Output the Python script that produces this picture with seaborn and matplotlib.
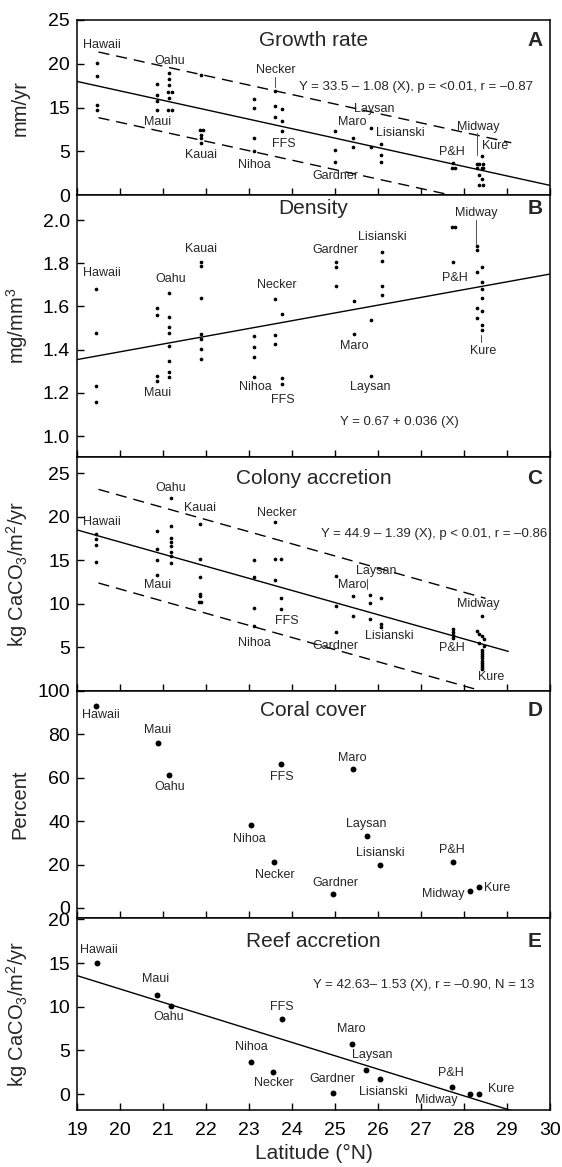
import matplotlib
matplotlib.use("Agg")
import matplotlib.pyplot as plt
import seaborn as sns
import numpy as np

# ---- A: growth rate (mm/yr)
growth_lat = [19.47, 19.47, 19.47, 19.47,
              20.85, 20.85, 20.85, 20.85,
              21.15, 21.15, 21.15, 21.12, 21.22, 21.15, 21.12, 21.22,
              21.88, 21.85, 21.92, 21.88, 21.88, 21.88,
              23.12, 23.12, 23.12, 23.12,
              23.6, 23.6, 23.6, 23.76, 23.76, 23.76,
              25.0, 25.0, 25.0,
              25.41, 25.41, 25.83, 25.83,
              26.07, 26.07, 26.07,
              27.75, 27.71, 27.79,
              28.41, 28.3, 28.36, 28.45, 28.3, 28.41, 28.45, 28.36, 28.41, 28.36, 28.45]
growth_val = [15.05, 13.6, 10.3, 9.7,
              12.7, 11.4, 10.7, 9.7,
              14.0, 13.3, 12.6, 11.8, 11.8, 11.05, 9.7, 9.7,
              13.75, 7.4, 7.4, 6.9, 6.5, 5.95,
              11.0, 10.0, 6.55, 5.07,
              11.9, 10.2, 8.95, 9.8, 8.5, 7.35,
              7.3, 5.14, 3.8,
              6.5, 5.5, 7.7, 5.5,
              5.8, 4.6, 3.8,
              3.7, 3.05, 3.05,
              4.45, 3.6, 3.6, 3.6, 3.05, 3.05, 3.05, 2.3, 1.8, 1.15, 1.15]
growth_fit = (33.5, -1.08)
growth_upper = 37.4
growth_lower = 29.9
growth_ticks = [0, 5, 10, 15, 20]
growth_ticklabels = ["0", "5", "15", "20", "25"]

# ---- B: density (mg/mm3)
dens_lat = [19.45] * 4 + [20.85] * 4 + [21.15] * 8 + [21.88] * 7 + [23.12] * 4 \
    + [23.6] * 3 + [23.76] * 3 + [25.02] * 3 + [25.44] * 2 + [25.83] * 2 + [26.09] * 4 \
    + [27.71, 27.79, 27.75] \
    + [28.3, 28.3, 28.41, 28.3, 28.41, 28.41, 28.41, 28.3, 28.41, 28.3, 28.41, 28.41]
dens_val = [1.679, 1.475, 1.233, 1.156,
            1.591, 1.560, 1.279, 1.256,
            1.661, 1.552, 1.503, 1.478, 1.417, 1.347, 1.298, 1.275,
            1.807, 1.787, 1.637, 1.472, 1.448, 1.403, 1.358,
            1.463, 1.411, 1.364, 1.275,
            1.634, 1.468, 1.424,
            1.565, 1.267, 1.239,
            1.807, 1.784, 1.696,
            1.627, 1.472,
            1.537, 1.278,
            1.850, 1.810, 1.694, 1.653,
            1.969, 1.969, 1.804,
            1.880, 1.861, 1.781, 1.758, 1.715, 1.681, 1.640, 1.594, 1.579, 1.545, 1.514, 1.491]
dens_fit = (0.67, 0.036)

# ---- C: colony accretion (kg CaCO3/m2/yr)
colony_lat = [19.45] * 4 + [20.87] * 4 + [21.18] * 8 \
    + [21.86, 21.86, 21.86, 21.86, 21.86, 21.83, 21.89] + [23.12] * 4 \
    + [23.61] * 3 + [23.74] * 3 + [25.02] * 3 + [25.43] * 2 + [25.81] * 3 + [26.07] * 3 \
    + [27.75] * 4 \
    + [28.41, 28.3, 28.36, 28.41, 28.47, 28.36, 28.47] + [28.42] * 10
colony_val = [18.03, 17.49, 16.8, 14.8,
              18.4, 16.3, 15.06, 13.34,
              22.14, 18.97, 17.56, 17.1, 16.6, 16.0, 15.5, 14.7,
              19.14, 15.17, 13.08, 11.17, 10.9, 10.23, 10.23,
              15.0, 13.08, 9.53, 7.44,
              19.4, 15.17, 12.77,
              15.17, 10.67, 9.46,
              13.16, 9.73, 6.76,
              10.94, 8.58,
              11.06, 10.11, 8.31,
              10.63, 7.74, 7.37,
              7.14, 6.8, 6.42, 6.1,
              8.6, 6.87, 6.6, 6.3, 5.94, 5.49, 5.2,
              4.75, 4.5, 4.25, 4.0, 3.75, 3.5, 3.25, 3.0, 2.75, 2.5]
colony_fit = (44.9, -1.39)
colony_upper = 50.25
colony_lower = 39.5

# ---- D / E: one value per island
islands = ["Hawaii", "Maui", "Oahu", "Nihoa", "Necker", "FFS", "Gardner",
           "Maro", "Laysan", "Lisianski", "P&H", "Midway", "Kure"]
cover_lat = [19.44, 20.89, 21.15, 23.04, 23.57, 23.74, 24.96, 25.41, 25.75, 26.05, 27.74, 28.15, 28.36]
cover_val = [93.2, 76.2, 61.4, 38.1, 21.4, 66.5, 6.3, 64.2, 33.0, 19.9, 21.2, 7.9, 9.6]
reef_lat = [19.46, 20.87, 21.18, 23.04, 23.55, 23.76, 24.96, 25.39, 25.72, 26.05, 27.71, 28.15, 28.36]
reef_val = [14.97, 11.37, 10.1, 3.7, 2.56, 8.56, 0.15, 5.73, 2.75, 1.68, 0.77, 0.0, 0.0]
reef_fit = (42.63, -1.53)

sns.set_theme(style="ticks")
plt.rcParams["font.family"] = ["Liberation Sans", "DejaVu Sans"]
plt.rcParams["mathtext.default"] = "regular"
plt.rcParams["axes.linewidth"] = 1.1

fig = plt.figure(figsize=(5.62, 11.67), dpi=100)
gs = fig.add_gridspec(5, 1, height_ratios=[175, 262, 234, 227, 192], hspace=0,
                      left=77 / 562, right=550 / 562, top=1 - 20 / 1167, bottom=1 - 1110 / 1167)
axes = [fig.add_subplot(gs[i]) for i in range(5)]

LBL = 9
EQ = 9.5


def fit_line(ax, coef, x0, x1, dashed=False, icpt=None):
    a, b = coef
    if icpt is not None:
        a = icpt
    xs = np.array([x0, x1])
    ax.plot(xs, a + b * xs, color="black", lw=1.0,
            dashes=(8, 5) if dashed else (None, None), zorder=1)


def labels(ax, items):
    for name, x, y in items:
        ax.text(x, y, name, fontsize=LBL, ha="center", va="center")


def leader(ax, x, y0, y1):
    ax.plot([x, x], [y0, y1], color="0.3", lw=0.7)


# A
ax = axes[0]
sns.scatterplot(x=growth_lat, y=growth_val, ax=ax, color="black", s=7, linewidth=0, legend=False)
fit_line(ax, growth_fit, 19, 30)
fit_line(ax, growth_fit, 19.5, 29.1, True, growth_upper)
fit_line(ax, growth_fit, 19.5, 27.75, True, growth_lower)
ax.set_ylim(0, 20)
ax.set_yticks(growth_ticks)
ax.set_yticklabels(growth_ticklabels)
ax.set_ylabel("mm/yr")
labels(ax, [("Hawaii", 19.57, 17.14), ("Oahu", 21.16, 15.3), ("Maui", 20.87, 8.33),
            ("Kauai", 21.89, 4.57), ("Nihoa", 23.13, 3.43), ("Necker", 23.62, 14.3),
            ("FFS", 23.8, 5.83), ("Gardner", 25.0, 2.2), ("Maro", 25.41, 8.38),
            ("Laysan", 25.91, 9.79), ("Lisianski", 26.53, 7.05), ("P&H", 27.72, 4.95),
            ("Midway", 28.33, 7.8), ("Kure", 28.72, 5.6)])
leader(ax, 23.6, 13.5, 12.3)
leader(ax, 28.31, 7.05, 4.6)
ax.text(24.5, 17.7, "Growth rate", fontsize=15, ha="center", va="center")
ax.text(29.65, 17.7, "A", fontsize=15, fontweight="bold", ha="center", va="center")
ax.text(26.89, 12.34, "Y = 33.5 – 1.08 (X), p = <0.01, r = –0.87", fontsize=EQ, ha="center", va="center")

# B
ax = axes[1]
sns.scatterplot(x=dens_lat, y=dens_val, ax=ax, color="black", s=7, linewidth=0, legend=False)
fit_line(ax, dens_fit, 19, 30)
ax.set_ylim(0.903, 2.116)
ax.set_yticks([1.0, 1.2, 1.4, 1.6, 1.8, 2.0])
ax.set_yticklabels(["1.0", "1.2", "1.4", "1.6", "1.8", "2.0"])
ax.set_ylabel("mg/mm$^3$")
labels(ax, [("Hawaii", 19.57, 1.753), ("Oahu", 21.19, 1.725), ("Maui", 20.88, 1.198),
            ("Kauai", 21.88, 1.864), ("Necker", 23.64, 1.699), ("Nihoa", 23.14, 1.225),
            ("FFS", 23.79, 1.167), ("Gardner", 25.01, 1.861), ("Lisianski", 26.1, 1.92),
            ("Maro", 25.44, 1.418), ("Laysan", 25.83, 1.225), ("P&H", 27.78, 1.733),
            ("Midway", 28.29, 2.031), ("Kure", 28.45, 1.395)])
leader(ax, 28.29, 2.0, 1.89)
leader(ax, 28.4, 1.468, 1.437)
ax.text(24.5, 2.054, "Density", fontsize=15, ha="center", va="center")
ax.text(29.65, 2.054, "B", fontsize=15, fontweight="bold", ha="center", va="center")
ax.text(26.49, 1.066, "Y = 0.67 + 0.036 (X)", fontsize=EQ, ha="center", va="center")

# C
ax = axes[2]
sns.scatterplot(x=colony_lat, y=colony_val, ax=ax, color="black", s=7, linewidth=0, legend=False)
fit_line(ax, colony_fit, 19, 29.03)
fit_line(ax, colony_fit, 19.5, 28.5, True, colony_upper)
fit_line(ax, colony_fit, 19.5, 28.4, True, colony_lower)
ax.set_ylim(0, 26.86)
ax.set_yticks([5, 10, 15, 20, 25])
ax.set_ylabel("kg CaCO$_3$/m$^2$/yr")
labels(ax, [("Hawaii", 19.57, 19.35), ("Oahu", 21.19, 23.28), ("Maui", 20.88, 12.11),
            ("Kauai", 21.86, 21.0), ("Necker", 23.64, 20.42), ("FFS", 23.87, 8.03),
            ("Nihoa", 23.12, 5.56), ("Laysan", 25.95, 13.75), ("Maro", 25.39, 12.15),
            ("Lisianski", 26.26, 6.32), ("Gardner", 25.01, 5.18), ("P&H", 27.72, 4.99),
            ("Midway", 28.33, 9.94), ("Kure", 28.63, 1.56)])
leader(ax, 25.75, 12.8, 11.66)
ax.text(24.5, 24.4, "Colony accretion", fontsize=15, ha="center", va="center")
ax.text(29.65, 24.4, "C", fontsize=15, fontweight="bold", ha="center", va="center")
ax.text(27.31, 18.02, "Y = 44.9 – 1.39 (X), p < 0.01, r = –0.86", fontsize=EQ, ha="center", va="center")

# D
ax = axes[3]
sns.scatterplot(x=cover_lat, y=cover_val, ax=ax, color="black", s=18, linewidth=0, legend=False)
ax.set_ylim(-4.63, 100)
ax.set_yticks([0, 20, 40, 60, 80, 100])
ax.set_ylabel("Percent")
labels(ax, [("Hawaii", 19.55, 89.0), ("Maui", 20.88, 82.1), ("Oahu", 21.15, 55.7),
            ("FFS", 23.77, 60.3), ("Nihoa", 23.01, 31.8), ("Necker", 23.59, 15.3),
            ("Maro", 25.4, 69.3), ("Laysan", 25.73, 38.75), ("Lisianski", 26.05, 25.3),
            ("P&H", 27.72, 26.85), ("Gardner", 25.01, 11.4), ("Midway", 27.51, 6.5),
            ("Kure", 28.78, 9.1)])
ax.text(24.5, 90.9, "Coral cover", fontsize=15, ha="center", va="center")
ax.text(29.65, 90.9, "D", fontsize=15, fontweight="bold", ha="center", va="center")

# E
ax = axes[4]
sns.scatterplot(x=reef_lat, y=reef_val, ax=ax, color="black", s=18, linewidth=0, legend=False)
fit_line(ax, reef_fit, 19, 30)
ax.set_ylim(-1.83, 20.16)
ax.set_yticks([0, 5, 10, 15, 20])
ax.set_ylabel("kg CaCO$_3$/m$^2$/yr")
labels(ax, [("Hawaii", 19.52, 16.5), ("Maui", 20.83, 13.14), ("Oahu", 21.13, 8.79),
            ("FFS", 23.76, 9.93), ("Nihoa", 23.05, 5.42), ("Necker", 23.58, 1.23),
            ("Maro", 25.37, 7.41), ("Laysan", 25.86, 4.47), ("Gardner", 24.95, 1.72),
            ("Lisianski", 26.12, 0.26), ("P&H", 27.69, 2.44), ("Midway", 27.36, -0.69),
            ("Kure", 28.87, 0.54)])
ax.text(24.5, 17.5, "Reef accretion", fontsize=15, ha="center", va="center")
ax.text(29.65, 17.5, "E", fontsize=15, fontweight="bold", ha="center", va="center")
ax.text(27.07, 12.5, "Y = 42.63– 1.53 (X), r = –0.90, N = 13", fontsize=EQ, ha="center", va="center")
ax.set_xlabel("Latitude (°N)", fontsize=15, labelpad=3)

for i, ax in enumerate(axes):
    ax.set_xlim(19, 30)
    ax.set_xticks(range(19, 31))
    ax.tick_params(direction="in", length=5, width=1, labelsize=14, colors="black")
    ax.tick_params(axis="y", pad=5)
    ax.tick_params(axis="x", pad=9)
    if i < 4:
        ax.tick_params(axis="x", labelbottom=False)
    ax.yaxis.label.set_size(14.5)
    ax.yaxis.set_label_coords(-0.1, 0.5)
    for sp in ax.spines.values():
        sp.set_color("black")

fig.savefig("out.png", dpi=100)
